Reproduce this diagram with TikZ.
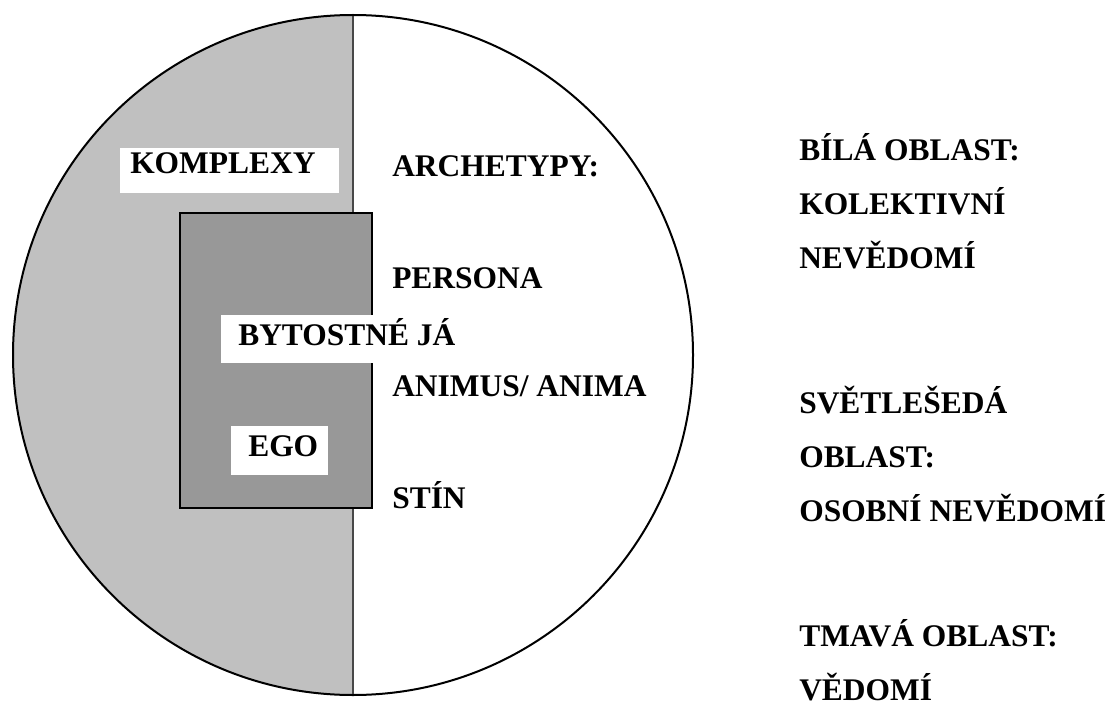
\documentclass[tikz,border=0pt]{standalone}
\usepackage{fontspec}
\setmainfont{Liberation Serif}[BoldFont={Liberation Serif Bold}]
\usetikzlibrary{positioning}
\definecolor{lightarea}{HTML}{C0C0C0}
\definecolor{darkarea}{HTML}{989898}
\definecolor{divider}{HTML}{484848}

\begin{document}
\begin{tikzpicture}[x=0.75pt, y=-0.75pt,
    lbl/.style={anchor=base west, inner sep=0pt, align=left,
      font=\bfseries\fontsize{23.6}{40.5}\selectfont}]
  \useasboundingbox (0,0) rectangle (1113,706);
  \def\cx{353}
  \def\cy{355}
  \def\r{340}
  \coordinate (centre) at (\cx,\cy);
  \coordinate (top) at (\cx,\cy-\r);
  \coordinate (bottom) at (\cx,\cy+\r);

  % left half of the circle
  \begin{scope}
    \clip (0,0) rectangle (\cx,706);
    \fill[lightarea] (centre) circle[radius=\r];
  \end{scope}
  \draw[divider, line width=1.5pt] (top) -- (bottom);

  % inner box
  \draw[line width=1.1pt, fill=darkarea] (180,213) rectangle (372,508);

  % white patches behind labels
  \fill[white] (120,148) rectangle (339,193);
  \fill[white] (221,315) rectangle (462,363);
  \fill[white] (231,426) rectangle (328,475);

  \draw[line width=1.5pt] (centre) circle[radius=\r];

  \node[lbl] (komplexy) at (130,174) {KOMPLEXY};
  \node[lbl] (archetypy) at (392,176) {ARCHETYPY:};
  \node[lbl] (persona) at (392,288) {PERSONA};
  \node[lbl] (bytostne) at (238,345) {BYTOSTNÉ JÁ};
  \node[lbl] (animus) at (392,396) {ANIMUS/ ANIMA};
  \node[lbl] (ego) at (248,456) {EGO};
  \node[lbl] (stin) at (392,508) {STÍN};

  % legend (base = last line)
  \node[lbl] (bila) at (799,268) {BÍLÁ OBLAST:\\KOLEKTIVNÍ\\NEVĚDOMÍ};
  \node[lbl] (svetla) at (799,521) {SVĚTLEŠEDÁ\\OBLAST:\\OSOBNÍ NEVĚDOMÍ};
  \node[lbl] (tmava) at (799,700) {TMAVÁ OBLAST:\\VĚDOMÍ};
\end{tikzpicture}
\end{document}
